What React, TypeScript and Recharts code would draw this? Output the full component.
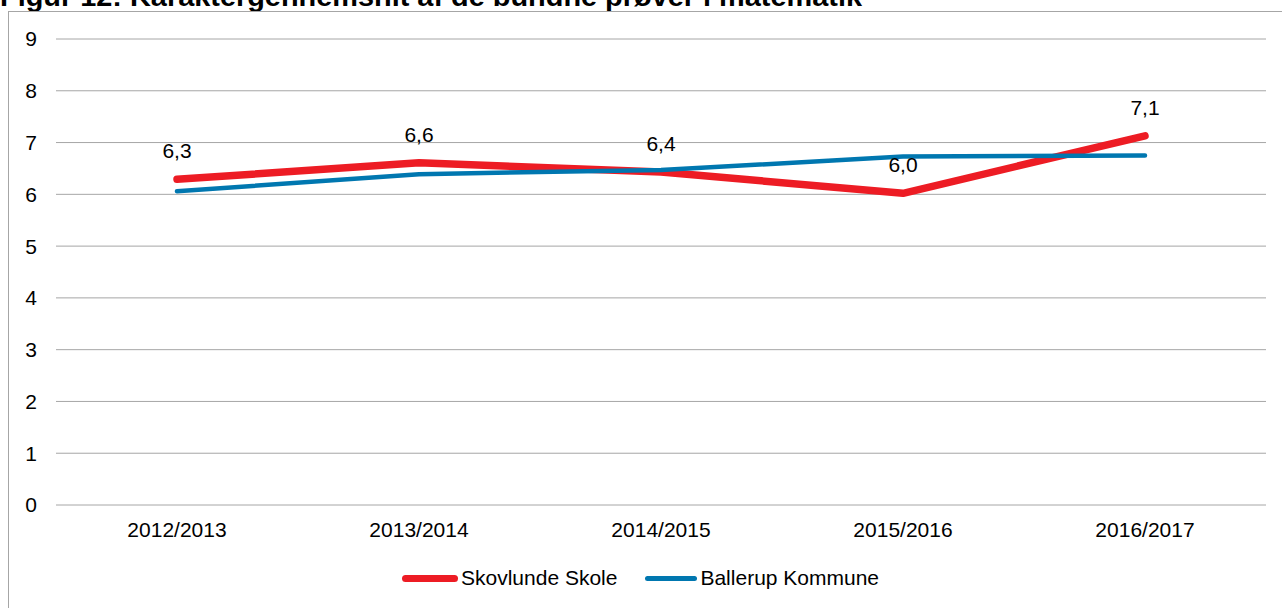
import React from 'react';
import { LineChart, Line, XAxis, YAxis, CartesianGrid, Legend, LabelList } from 'recharts';

const categories = ['2012/2013', '2013/2014', '2014/2015', '2015/2016', '2016/2017'];
const skovlundeSkole = [6.29, 6.61, 6.43, 6.02, 7.13];
const ballerupKommune = [6.06, 6.39, 6.47, 6.73, 6.75];
const yTicks = [0, 1, 2, 3, 4, 5, 6, 7, 8, 9];
const titleText = 'Figur 12: Karaktergennemsnit af de bundne prøver i matematik';

const seriesNames = { skole: 'Skovlunde Skole', kommune: 'Ballerup Kommune' };
const RED = '#ED1C24';
const BLUE = '#0077B0';
const FONT = '"Liberation Sans", Arial, sans-serif';

const data = categories.map((c, i) => ({
  name: c,
  skole: skovlundeSkole[i],
  kommune: ballerupKommune[i],
}));

const fmt = (v: any) => (typeof v === 'number' ? v.toFixed(1).replace('.', ',') : v);

const LegendContent = () => (
  <div style={{ display: 'flex', alignItems: 'center', height: 24, paddingLeft: 402, fontFamily: FONT, fontSize: 21, color: '#000' }}>
    <div style={{ width: 56, height: 7, background: RED, borderRadius: 4 }} />
    <span style={{ marginLeft: 3 }}>{seriesNames.skole}</span>
    <div style={{ width: 52, height: 5, background: BLUE, borderRadius: 3, marginLeft: 28 }} />
    <span style={{ marginLeft: 3 }}>{seriesNames.kommune}</span>
  </div>
);

export default function App() {
  return (
    <div style={{ position: 'absolute', left: 0, top: 0, width: 1282, height: 608, overflow: 'hidden', background: '#fff', fontFamily: FONT }}>
      <svg style={{ position: 'absolute', left: 0, top: 0 }} width={1282} height={20}>
        <text x={0} y={6} fontFamily={FONT} fontWeight="bold" fontSize={28} fill="#000" textLength={862} lengthAdjust="spacingAndGlyphs">
          {titleText}
        </text>
      </svg>
      <div style={{ position: 'absolute', left: 8, top: 11, width: 1400, height: 700, borderLeft: '1px solid #A6A6A6', borderTop: '1px solid #A6A6A6' }} />
      <div style={{ position: 'absolute', left: 0, top: 0 }}>
        <LineChart width={1282} height={608} data={data} margin={{ top: 39, right: 16, left: 16, bottom: 49 }}>
          <CartesianGrid vertical={false} stroke="#A6A6A6" strokeWidth={1} />
          <XAxis
            dataKey="name"
            axisLine={false}
            tickLine={false}
            tickSize={0}
            tickMargin={17}
            height={30}
            interval={0}
            padding={{ left: 121, right: 121 }}
            tick={{ fill: '#000', fontSize: 21, fontFamily: FONT }}
          />
          <YAxis
            domain={[0, 9]}
            ticks={yTicks}
            interval={0}
            axisLine={false}
            tickLine={false}
            tickSize={0}
            tickMargin={19}
            width={40}
            tick={{ fill: '#000', fontSize: 21, fontFamily: FONT }}
          />
          <Legend
            verticalAlign="bottom"
            content={<LegendContent />}
            wrapperStyle={{ top: 566, left: 0, width: 1282, bottom: 'auto', height: 24 }}
          />
          <Line
            type="linear"
            dataKey="skole"
            name={seriesNames.skole}
            stroke={RED}
            strokeWidth={7.5}
            strokeLinecap="round"
            strokeLinejoin="round"
            dot={false}
            activeDot={false}
            isAnimationActive={false}
          >
            <LabelList dataKey="skole" position="top" offset={21} formatter={fmt} fill="#000" fontSize={21} fontFamily={FONT} />
          </Line>
          <Line
            type="linear"
            dataKey="kommune"
            name={seriesNames.kommune}
            stroke={BLUE}
            strokeWidth={4.5}
            strokeLinecap="round"
            strokeLinejoin="round"
            dot={false}
            activeDot={false}
            isAnimationActive={false}
          />
        </LineChart>
      </div>
    </div>
  );
}
